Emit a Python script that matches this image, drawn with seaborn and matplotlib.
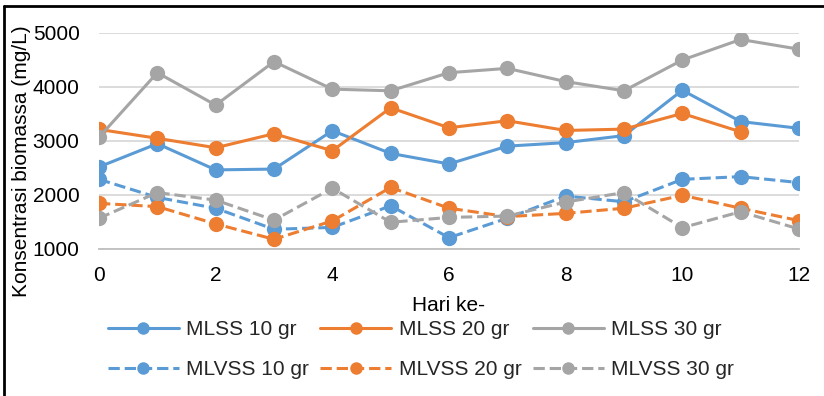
import numpy as np
import pandas as pd
import matplotlib
matplotlib.use("Agg")
import matplotlib.pyplot as plt
import seaborn as sns
from matplotlib.lines import Line2D

days = list(range(13))
mlss_10 = [2520, 2950, 2465, 2480, 3190, 2770, 2575, 2905, 2970, 3100, 3940, 3360, 3235]
mlss_20 = [3215, 3050, 2875, 3135, 2820, 3615, 3245, 3375, 3195, 3220, 3510, 3170, np.nan]
mlss_30 = [3070, 4265, 3665, 4470, 3960, 3930, 4265, 4345, 4100, 3930, 4500, 4880, 4700]
mlvss_10 = [2290, 1955, 1755, 1365, 1400, 1800, 1210, 1570, 1980, 1875, 2290, 2340, 2230]
mlvss_20 = [1845, 1785, 1465, 1180, 1520, 2140, 1755, 1600, 1660, 1755, 1995, 1755, 1525]
mlvss_30 = [1570, 2045, 1905, 1535, 2125, 1495, 1585, 1610, 1870, 2045, 1395, 1690, 1370]

series_names = ["MLSS 10 gr", "MLSS 20 gr", "MLSS 30 gr",
                "MLVSS 10 gr", "MLVSS 20 gr", "MLVSS 30 gr"]
series_vals = [mlss_10, mlss_20, mlss_30, mlvss_10, mlvss_20, mlvss_30]
colors = ["#5B9BD5", "#ED7D31", "#A5A5A5", "#5B9BD5", "#ED7D31", "#A5A5A5"]
styles = ["-", "-", "-", "--", "--", "--"]

y_ticks = [1000, 2000, 3000, 4000, 5000]
x_ticks = [0, 2, 4, 6, 8, 10, 12]

sns.set_theme(style="white")
plt.rcParams["font.family"] = ["Liberation Sans", "DejaVu Sans"]
FS = 15

fig = plt.figure(figsize=(8.24, 3.96), dpi=100)
L, R, T, B = 99, 799, 33, 249
W, H = 824, 396
ax = fig.add_axes([L / W, 1 - B / H, (R - L) / W, (B - T) / H])

handles = {}
for name, vals, c, ls in zip(series_names, series_vals, colors, styles):
    df = pd.DataFrame({"day": days, "val": vals}).dropna()
    sns.lineplot(data=df, x="day", y="val", ax=ax, color=c, linestyle=ls,
                 marker="o", markersize=11, markeredgewidth=0, linewidth=2.2,
                 label=name, legend=False)
    handles[name] = Line2D([], [], color=c, linestyle=ls, linewidth=2.2,
                           marker="o", markersize=9, markeredgewidth=0)

ax.set_xlim(0, 12)
ax.set_ylim(1000, 5000)
ax.set_xticks(x_ticks)
ax.set_yticks(y_ticks)
ax.set_xticklabels([str(v) for v in x_ticks], fontsize=FS)
ax.set_yticklabels([str(v) for v in y_ticks], fontsize=FS)
ax.tick_params(axis="both", length=0, colors="black")
ax.tick_params(axis="x", pad=12)
ax.tick_params(axis="y", pad=14)
ax.grid(axis="y", color="#D9D9D9", linewidth=1.3)
ax.grid(axis="x", visible=False)
for s in ["top", "right", "left"]:
    ax.spines[s].set_visible(False)
ax.spines["bottom"].set_color("#BFBFBF")
ax.spines["bottom"].set_linewidth(1.3)
ax.set_axisbelow(True)

ax.set_xlabel("Hari ke-", fontsize=FS, color="black")
ax.set_ylabel("Konsentrasi biomassa (mg/L)", fontsize=FS, color="black")
ax.xaxis.set_label_coords(0.5, (B - 296) / (B - T))
ax.yaxis.set_label_coords((31 - L) / (R - L), (B - 161) / (B - T))

order = ["MLSS 10 gr", "MLVSS 10 gr", "MLSS 20 gr", "MLVSS 20 gr",
         "MLSS 30 gr", "MLVSS 30 gr"]
fig.legend([handles[n] for n in order], order, ncol=3, frameon=False,
           fontsize=FS, loc="upper left", bbox_to_anchor=(108 / W, 1 - 320 / H),
           borderpad=0, borderaxespad=0, handlelength=3.4, handletextpad=0.35,
           columnspacing=0.55, labelspacing=1.0)

# figure border (top and left)
fig.add_artist(Line2D([4 / W, 1], [1 - 6 / H, 1 - 6 / H], color="black",
                      linewidth=2, transform=fig.transFigure))
fig.add_artist(Line2D([4 / W, 4 / W], [0, 1 - 6 / H], color="black",
                      linewidth=2, transform=fig.transFigure))

fig.savefig("out.png", dpi=100)
